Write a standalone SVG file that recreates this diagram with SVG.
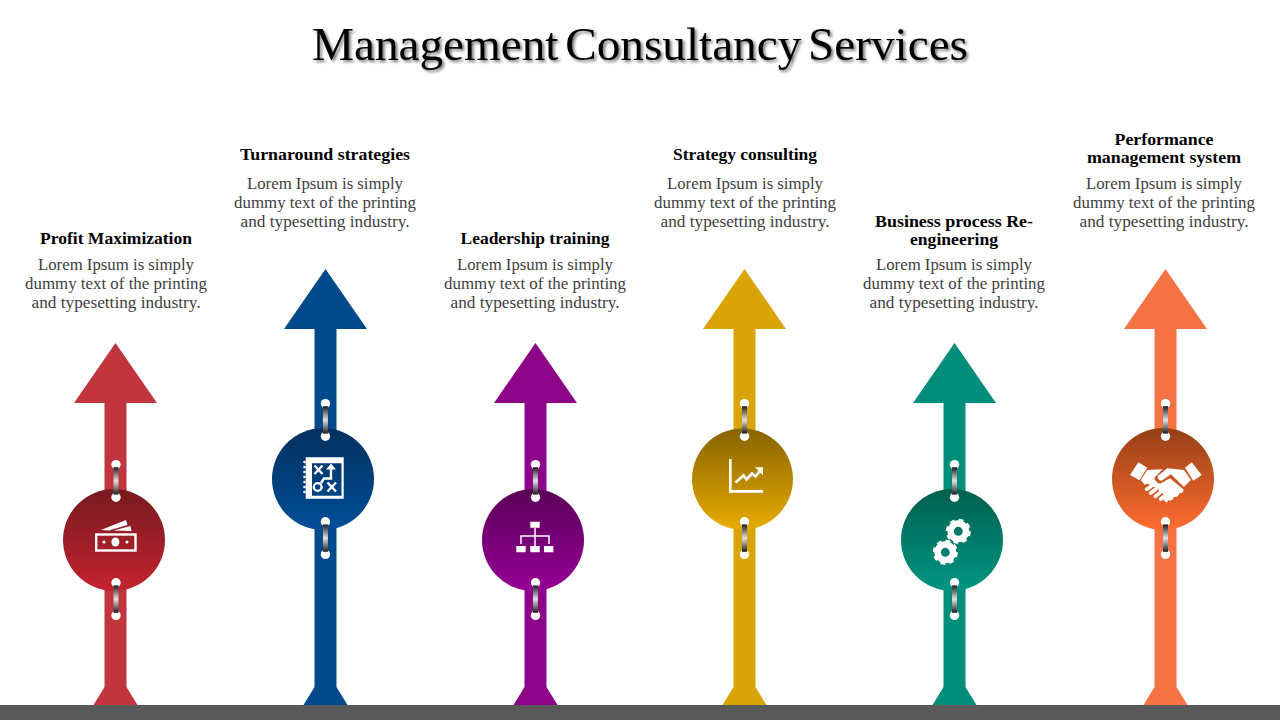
<svg xmlns="http://www.w3.org/2000/svg" width="1280" height="720" viewBox="0 0 1280 720">
<style>
text{font-family:"Liberation Serif","Times New Roman",serif;text-anchor:middle}
.title{font-size:47px;fill:#000;word-spacing:-5px;filter:drop-shadow(2px 2px 1.5px rgba(0,0,0,.55))}
.h{font-size:16px;font-weight:bold;fill:#000}
.b{font-size:16.5px;fill:#404040}
.w{fill:#fff}
.wl{fill:none;stroke:#fff}
</style>
<defs>
<linearGradient id="bar" x1="0" y1="0" x2="0" y2="1"><stop offset="0" stop-color="#1c1c1c"/><stop offset=".5" stop-color="#e2e2e2"/><stop offset="1" stop-color="#1c1c1c"/></linearGradient>
<linearGradient id="gr" x1="0" y1="0" x2="0" y2="1"><stop offset="0" stop-color="#761a20"/><stop offset="1" stop-color="#c4242f"/></linearGradient>
<linearGradient id="gb" x1="0" y1="0" x2="0" y2="1"><stop offset="0" stop-color="#03305e"/><stop offset="1" stop-color="#004e98"/></linearGradient>
<linearGradient id="gp" x1="0" y1="0" x2="0" y2="1"><stop offset="0" stop-color="#590057"/><stop offset="1" stop-color="#970097"/></linearGradient>
<linearGradient id="gy" x1="0" y1="0" x2="0" y2="1"><stop offset="0" stop-color="#876300"/><stop offset="1" stop-color="#e8ac00"/></linearGradient>
<linearGradient id="gt" x1="0" y1="0" x2="0" y2="1"><stop offset="0" stop-color="#005f4f"/><stop offset="1" stop-color="#009681"/></linearGradient>
<linearGradient id="go" x1="0" y1="0" x2="0" y2="1"><stop offset="0" stop-color="#953f16"/><stop offset="1" stop-color="#ff6d30"/></linearGradient>
<path id="arrowLow" d="M0 343L41.5 403H11V687L22 705H-22L-11 687V403H-41.5Z"/>
<path id="arrowHigh" d="M0 269L41.5 329H11V687L22 705H-22L-11 687V329H-41.5Z"/>
<g id="ring">
<circle cx="0" cy="0" r="4.7" fill="#fff"/><circle cx="0" cy="32.6" r="4.7" fill="#fff"/>
<rect x="-2.5" y="2.6" width="5" height="27.4" fill="url(#bar)"/>
</g>
<g id="rings"><use href="#ring" y="-75.4"/><use href="#ring" y="42.8"/></g>
<g id="gear" fill="none" stroke="#fff">
<circle r="7.7" stroke-width="6.5"/>
<circle r="11" stroke-width="3.2" stroke-dasharray="4.6 4.04"/>
</g>
</defs>

<rect id="ground" x="0" y="705" width="1280" height="15" fill="#595959"/>
<text class="title" x="640" y="60" textLength="656" lengthAdjust="spacingAndGlyphs">Management Consultancy Services</text>

<g id="node-profit">
<use href="#arrowLow" x="115.5" fill="#c1353f"/>
<circle cx="114" cy="540" r="51" fill="url(#gr)"/>
<use href="#rings" x="116" y="540"/>
<rect class="wl" x="96.2" y="534.5" width="39.3" height="16" stroke-width="2.4"/>
<ellipse class="w" cx="115.4" cy="542" rx="4" ry="4.6"/>
<circle class="w" cx="104" cy="542" r="1.6"/><circle class="w" cx="127" cy="542" r="1.6"/>
<path class="w" d="M101 530L126 520L127.5 525L109 530.5ZM113.5 530.5L130.5 526L131.5 531Z"/>
<text class="h" x="116" y="244" textLength="152" lengthAdjust="spacingAndGlyphs">Profit Maximization</text>
<text class="b" x="116" y="269.5" textLength="156" lengthAdjust="spacingAndGlyphs">Lorem Ipsum is simply</text>
<text class="b" x="116" y="288.5" textLength="182" lengthAdjust="spacingAndGlyphs">dummy text of the printing</text>
<text class="b" x="116" y="307.5" textLength="169" lengthAdjust="spacingAndGlyphs">and typesetting industry.</text>
</g>

<g id="node-turnaround">
<use href="#arrowHigh" x="325.5" fill="#004a8c"/>
<circle cx="323" cy="479" r="51" fill="url(#gb)"/>
<use href="#rings" x="325.4" y="479"/>
<path class="w" fill-rule="evenodd" d="M305.7 457.3H343.7V498.7H305.7ZM312 463.3V495.7H341.5V463.3Z"/>
<circle class="w" cx="304.5" cy="462" r="1.3"/><circle class="w" cx="304.5" cy="467" r="1.3"/><circle class="w" cx="304.5" cy="472" r="1.3"/><circle class="w" cx="304.5" cy="477" r="1.3"/><circle class="w" cx="304.5" cy="482" r="1.3"/><circle class="w" cx="304.5" cy="487" r="1.3"/><circle class="w" cx="304.5" cy="492" r="1.3"/>
<path class="wl" stroke-width="2.4" d="M314.5 465.5L322.5 474M322.5 465.5L314.5 474M327.5 482.5L336 491.5M336 482.5L327.5 491.5M321 483L324 478.5H331V466.5"/>
<path class="w" d="M331 463.5L336 469.5H326Z"/>
<circle class="wl" stroke-width="2.4" cx="317.7" cy="487" r="3.9"/>
<text class="h" x="325" y="160" textLength="170" lengthAdjust="spacingAndGlyphs">Turnaround strategies</text>
<text class="b" x="325" y="188.5" textLength="156" lengthAdjust="spacingAndGlyphs">Lorem Ipsum is simply</text>
<text class="b" x="325" y="207.5" textLength="182" lengthAdjust="spacingAndGlyphs">dummy text of the printing</text>
<text class="b" x="325" y="226.5" textLength="169" lengthAdjust="spacingAndGlyphs">and typesetting industry.</text>
</g>

<g id="node-leadership">
<use href="#arrowLow" x="535.5" fill="#8d0489"/>
<circle cx="533" cy="540" r="51" fill="url(#gp)"/>
<use href="#rings" x="535.5" y="540"/>
<path class="w" d="M530.3 521.7h9.4v6h-9.4ZM516.3 546h9.4v6.3h-9.4ZM530.3 546h9.4v6.3h-9.4ZM544 546h9.4v6.3H544Z"/>
<path class="wl" stroke-width="1.5" d="M535 527.7V546M521 544V536H549V544"/>
<text class="h" x="535" y="244" textLength="149" lengthAdjust="spacingAndGlyphs">Leadership training</text>
<text class="b" x="535" y="269.5" textLength="156" lengthAdjust="spacingAndGlyphs">Lorem Ipsum is simply</text>
<text class="b" x="535" y="288.5" textLength="182" lengthAdjust="spacingAndGlyphs">dummy text of the printing</text>
<text class="b" x="535" y="307.5" textLength="169" lengthAdjust="spacingAndGlyphs">and typesetting industry.</text>
</g>

<g id="node-strategy">
<use href="#arrowHigh" x="744.5" fill="#d9a406"/>
<circle cx="742.5" cy="479" r="50.5" fill="url(#gy)"/>
<use href="#rings" x="744.5" y="479"/>
<path class="wl" stroke-width="2.6" d="M730.3 459V491.4H763"/>
<path class="wl" stroke-width="2.6" d="M735.5 482.5L743.5 475.5L746.5 479.5L752 473.5L755.5 476.5L761 469.5"/>
<path class="w" d="M755 467.3H763V475.5Z"/>
<text class="h" x="745" y="160" textLength="144" lengthAdjust="spacingAndGlyphs">Strategy consulting</text>
<text class="b" x="745" y="188.5" textLength="156" lengthAdjust="spacingAndGlyphs">Lorem Ipsum is simply</text>
<text class="b" x="745" y="207.5" textLength="182" lengthAdjust="spacingAndGlyphs">dummy text of the printing</text>
<text class="b" x="745" y="226.5" textLength="169" lengthAdjust="spacingAndGlyphs">and typesetting industry.</text>
</g>

<g id="node-business">
<use href="#arrowLow" x="954.5" fill="#008e7b"/>
<circle cx="952" cy="540" r="51" fill="url(#gt)"/>
<use href="#rings" x="954.5" y="540"/>
<use href="#gear" x="958.3" y="531.3"/>
<use href="#gear" x="945.3" y="552.3"/>
<text class="h" x="954" y="227" textLength="158" lengthAdjust="spacingAndGlyphs">Business process Re-</text>
<text class="h" x="954" y="245" textLength="88" lengthAdjust="spacingAndGlyphs">engineering</text>
<text class="b" x="954" y="269.5" textLength="156" lengthAdjust="spacingAndGlyphs">Lorem Ipsum is simply</text>
<text class="b" x="954" y="288.5" textLength="182" lengthAdjust="spacingAndGlyphs">dummy text of the printing</text>
<text class="b" x="954" y="307.5" textLength="169" lengthAdjust="spacingAndGlyphs">and typesetting industry.</text>
</g>

<g id="node-performance">
<use href="#arrowHigh" x="1165.5" fill="#f47244"/>
<circle cx="1163" cy="479" r="51" fill="url(#go)"/>
<use href="#rings" x="1165.5" y="479"/>
<g transform="translate(1110 430) scale(.3333)">
<path class="w" d="M60 135L85 97L112 113L88 151ZM225 113L245 97L275 135L250 152Z"/>
<path class="w" d="M112 120L158 118L133 143Q135 155 150 161L180 145L220 178Q222 190 208 190Q205 203 192 201Q188 214 175 211L170 218L160 210Q170 195 150 185Q140 170 125 170Q115 155 105 165L92 150Z"/>
<path class="w" d="M172 115L222 120L243 150L222 171L183 133L155 152Q142 150 143 138Z"/>
<g fill="none" stroke="#fff" stroke-width="11" stroke-linecap="round"><path d="M110 178L122 170M122 189L137 178M136 199L150 188M152 207L162 199"/></g>
</g>
<text class="h" x="1164" y="145" textLength="99" lengthAdjust="spacingAndGlyphs">Performance</text>
<text class="h" x="1164" y="163" textLength="154" lengthAdjust="spacingAndGlyphs">management system</text>
<text class="b" x="1164" y="188.5" textLength="156" lengthAdjust="spacingAndGlyphs">Lorem Ipsum is simply</text>
<text class="b" x="1164" y="207.5" textLength="182" lengthAdjust="spacingAndGlyphs">dummy text of the printing</text>
<text class="b" x="1164" y="226.5" textLength="169" lengthAdjust="spacingAndGlyphs">and typesetting industry.</text>
</g>
</svg>
